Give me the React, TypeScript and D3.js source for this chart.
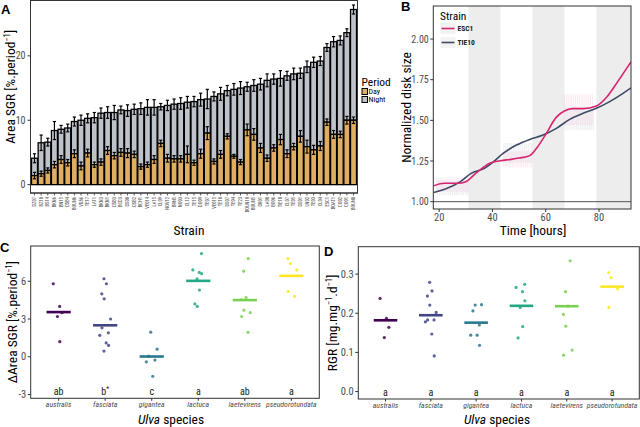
import React from 'react';
import * as d3 from 'd3';

const FONT = "'Roboto Condensed','Liberation Sans Narrow','Arial Narrow',Roboto,sans-serif";

// ---------- Panel A data ----------
const strains = ["DZ07","BZ10","BS14","BKN6","BN15","DSB4","BOUN6","VD86","TE17","LAT1","BKN3","BKN1","DSB3","BCD3","DS08","DSB2","BCH1","VE014","LA15","CL09","NOV12","BRN5","NO03","CL12","TE15","DO09","TE07","VE015","TE18","DS07","TE04","TE23","BOUN10","BOUN5","DR01","LA08","BO06","TIE10","CL07","TE05","DS01","LN02","TE03","CL04","ESC1","BOAT1","CO02","CO01","BOUN8"];
const totalSGR = [4.1,6.5,6.6,8.4,8.6,8.8,9.8,10.0,10.3,10.4,11.1,11.2,11.2,11.6,11.5,11.7,11.8,12.0,12.0,12.1,12.3,12.5,12.6,12.8,12.9,13.2,13.3,13.7,14.1,14.6,14.8,15.0,15.2,15.4,15.6,16.2,16.4,16.5,16.9,17.2,17.3,18.3,19.0,19.2,21.3,22.2,22.4,23.6,27.2];
const daySGR = [1.4,1.7,2.2,3.1,3.9,3.4,4.8,2.9,4.9,3.1,3.5,5.3,4.5,5.0,4.9,4.7,2.8,3.1,3.9,6.4,4.1,4.0,4.0,4.7,3.4,4.8,8.0,3.6,4.7,7.5,4.4,3.5,8.5,7.8,5.7,4.1,5.7,7.0,4.8,5.9,7.5,5.9,5.4,6.0,9.7,7.8,7.8,10.0,10.0];
const totalErr = [0.7,1.2,0.6,1.4,0.6,0.6,0.7,0.8,0.7,0.8,0.8,0.9,1.1,0.6,0.9,0.8,0.9,1.2,1.2,0.5,0.8,0.8,0.9,0.9,0.8,1.0,1.5,0.7,1.0,0.8,0.9,1.0,0.7,0.9,0.9,1.0,0.8,1.2,0.7,0.9,0.8,0.9,0.8,0.7,0.6,0.8,0.7,0.6,0.7];
const dayErr = [0.5,0.4,0.4,0.5,0.6,0.5,0.6,0.6,0.6,0.4,0.5,0.6,0.5,0.6,0.7,0.5,0.4,0.4,0.6,0.5,0.6,0.5,0.5,1.3,0.4,0.7,1.0,0.4,0.6,0.4,0.3,0.4,0.9,0.9,0.7,0.5,0.5,0.8,0.6,0.5,0.9,1.0,0.7,0.7,0.5,0.6,0.5,0.6,0.5];
const aTicks = [0, 10, 20];
const periods = ["Day", "Night"];
const periodColors = ["#E0AE62", "#BEC3CB"];

// ---------- Panel B data ----------
const hoursESC1 = [18,22,27,30,34,39,43,47,50,54,57,60,64,67,70,74,79,83,87,92];
const sizeESC1 = [1.098,1.113,1.113,1.123,1.178,1.236,1.252,1.26,1.268,1.283,1.338,1.414,1.52,1.557,1.572,1.572,1.588,1.645,1.738,1.86];
const hoursTIE10 = [18,23,28,32,37,40,44,49,54,59,64,69,74,79,84,89,92];
const sizeTIE10 = [1.057,1.082,1.123,1.174,1.205,1.24,1.297,1.348,1.383,1.41,1.451,1.506,1.543,1.574,1.615,1.666,1.70];
const nightStart = [31, 55, 79];
const nightEnd = [43, 67, 92];
const dayWinStart = [19, 44, 67];
const dayWinEnd = [31, 55, 78];
const esc1Low = [1.06, 1.21, 1.47];
const esc1High = [1.15, 1.31, 1.66];
const tie10Low = [1.04, 1.24, 1.44];
const tie10High = [1.13, 1.36, 1.58];
const bTicksX = [20, 40, 60, 80];
const bTicksY = [1.0, 1.25, 1.5, 1.75, 2.0];
const bStrains = ["ESC1", "TIE10"];
const bColors = ["#D6246E", "#3E4A68"];

// ---------- Panels C / D data ----------
const species = ["australis","fasciata","gigantea","lactuca","laetevirens","pseudorotundata"];
const speciesColors = ["#440154","#414487","#2A788E","#22A884","#7AD151","#FDE725"];
const deltaSGR = [
  [5.8, 4.0, 3.5, 3.2, 1.2],
  [6.2, 5.8, 5.0, 4.6, 3.0, 2.3, 1.9, 1.7, 1.1, 0.9, 0.45],
  [1.95, 0.6, 0.05, -0.26, -0.4, -1.55],
  [8.2, 6.9, 6.7, 6.6, 6.2, 5.3, 4.2, 4.0],
  [7.8, 6.8, 4.7, 4.55, 3.7, 3.5, 3.2, 1.93],
  [7.8, 7.4, 6.9, 5.2, 4.8],
];
const deltaMeans = [3.55, 2.5, 0.02, 6.03, 4.5, 6.43];
const deltaLetters = ["ab", "b", "c", "a", "ab", "a"];
const deltaStar = [false, true, false, false, false, false];
const cTicks = [-3, 0, 3, 6];

const rgr = [
  [0.238, 0.187, 0.164, 0.138],
  [0.279, 0.257, 0.244, 0.221, 0.202, 0.183, 0.183, 0.178, 0.147, 0.091],
  [0.221, 0.222, 0.206, 0.170, 0.144, 0.144, 0.118],
  [0.274, 0.266, 0.255, 0.232, 0.215, 0.166, 0.137],
  [0.334, 0.255, 0.218, 0.197, 0.167, 0.106, 0.093],
  [0.304, 0.291, 0.262, 0.215],
];
const rgrMeans = [0.182, 0.195, 0.176, 0.219, 0.218, 0.268];
const rgrLetters = ["a", "a", "a", "a", "a", "a"];
const dTicks = [0.0, 0.1, 0.2, 0.3];

const AX = "#333333";
const TICKTXT = "#4D4D4D";

function jitter(i: number) {
  return (((i * 7) % 5) - 2) * 2.2 + (((i * 3) % 2) ? 1 : -1);
}

function PanelA() {
  const left = 30.5, right = 357.5, top = 0.5, bottom = 193;
  const x = d3.scalePoint<string>().domain(strains).range([left, right]).padding(0.6);
  const y = d3.scaleLinear().domain([-1.3, 28.6]).range([bottom, top]);
  const bw = x.step() * 0.9;
  const cap = 3.2;
  return (
    <g>
      <rect x={left} y={top} width={right - left} height={bottom - top} fill="white" stroke={AX} strokeWidth={1} />
      {strains.map((s, i) => {
        const cx = x(s)!;
        return (
          <g key={s}>
            <rect x={cx - bw / 2} y={y(totalSGR[i])} width={bw} height={y(daySGR[i]) - y(totalSGR[i])} fill={periodColors[1]} stroke="black" strokeWidth={1.3} />
            <rect x={cx - bw / 2} y={y(daySGR[i])} width={bw} height={y(0) - y(daySGR[i])} fill={periodColors[0]} stroke="black" strokeWidth={1.3} />
          </g>
        );
      })}
      {strains.map((s, i) => {
        const cx = x(s)!;
        const t = totalSGR[i], d = daySGR[i];
        return (
          <g key={s + "e"} stroke="black" strokeWidth={1.2}>
            <line x1={cx} x2={cx} y1={y(t - totalErr[i])} y2={y(t + totalErr[i])} />
            <line x1={cx - cap / 2} x2={cx + cap / 2} y1={y(t + totalErr[i])} y2={y(t + totalErr[i])} />
            <line x1={cx - cap / 2} x2={cx + cap / 2} y1={y(t - totalErr[i])} y2={y(t - totalErr[i])} />
            <line x1={cx} x2={cx} y1={y(d - dayErr[i])} y2={y(d + dayErr[i])} />
            <line x1={cx - cap / 2} x2={cx + cap / 2} y1={y(d + dayErr[i])} y2={y(d + dayErr[i])} />
            <line x1={cx - cap / 2} x2={cx + cap / 2} y1={y(d - dayErr[i])} y2={y(d - dayErr[i])} />
          </g>
        );
      })}
      <rect x={left} y={top} width={right - left} height={bottom - top} fill="none" stroke={AX} strokeWidth={1} />
      {aTicks.map(t => (
        <g key={t}>
          <line x1={left - 3} x2={left} y1={y(t)} y2={y(t)} stroke={AX} />
          <text x={left - 5} y={y(t) + 3.5} textAnchor="end" fontSize={10} fill={TICKTXT}>{t}</text>
        </g>
      ))}
      {strains.map(s => (
        <g key={s + "l"}>
          <line x1={x(s)!} x2={x(s)!} y1={bottom} y2={bottom + 2.5} stroke={AX} strokeWidth={0.8} />
          <text transform={`translate(${x(s)! + 1.6},${bottom + 4}) rotate(-90)`} textAnchor="end" fontSize={4.6} fill={TICKTXT}>{s}</text>
        </g>
      ))}
      <text x={189} y={235} textAnchor="middle" fontSize={13.5} fill="black">Strain</text>
      <text transform={`translate(15,${(top + bottom) / 2 - 10}) rotate(-90)`} textAnchor="middle" fontSize={13.5} fill="black">
        Area SGR [%.period<tspan dy={-5} fontSize={8.5}>−1</tspan><tspan dy={5}>]</tspan>
      </text>
      <text x={1} y={14} fontSize={13} fontWeight="bold" fill="black" fontFamily="Arial, Liberation Sans, sans-serif">A</text>
      {/* legend */}
      <text x={361.5} y={85.5} fontSize={11.5} fill="black">Period</text>
      {periods.map((p, i) => (
        <g key={p}>
          <rect x={362} y={88.5 + i * 8} width={5.5} height={6} fill={periodColors[i]} stroke="black" strokeWidth={1} />
          <text x={368.5} y={94.3 + i * 8} fontSize={8} fill="black">{p}</text>
        </g>
      ))}
    </g>
  );
}

function PanelB() {
  const left = 433.3, right = 631, top = 6, bottom = 209;
  const x = d3.scaleLinear().domain([17.8, 92]).range([left, right]);
  const y = d3.scaleLinear().domain([0.955, 2.203]).range([bottom, top]);
  const line = d3.line<[number, number]>().x(d => x(d[0])).y(d => y(d[1])).curve(d3.curveMonotoneX);
  const esc = hoursESC1.map((h, i) => [h, sizeESC1[i]] as [number, number]);
  const tie = hoursTIE10.map((h, i) => [h, sizeTIE10[i]] as [number, number]);
  const hatch = (lo: number[], hi: number[], color: string, off: number) =>
    dayWinStart.map((s, k) => {
      const xs = d3.range(s + off, dayWinEnd[k], 0.7);
      return (
        <g key={color + k} stroke={color} strokeOpacity={0.1} strokeWidth={1}>
          {xs.map((h, j) => (
            <line key={j} x1={x(h)} x2={x(h)} y1={y(lo[k])} y2={y(hi[k])} />
          ))}
        </g>
      );
    });
  return (
    <g>
      <defs>
        <clipPath id="clipB"><rect x={left} y={top} width={right - left} height={bottom - top} /></clipPath>
      </defs>
      <rect x={left} y={top} width={right - left} height={bottom - top} fill="white" />
      <g clipPath="url(#clipB)">
        {nightStart.map((s, i) => (
          <rect key={s} x={x(s)} y={top} width={x(nightEnd[i]) - x(s)} height={bottom - top} fill="#EDEDED" />
        ))}
        <line x1={left} x2={right} y1={y(1)} y2={y(1)} stroke="#555" strokeWidth={1} />
        {hatch(tie10Low, tie10High, bColors[1], 0.35)}
        {hatch(esc1Low, esc1High, bColors[0], 0)}
        <path d={line(tie)!} fill="none" stroke={bColors[1]} strokeWidth={1.6} />
        <path d={line(esc)!} fill="none" stroke={bColors[0]} strokeWidth={1.6} />
      </g>
      <rect x={left} y={top} width={right - left} height={bottom - top} fill="none" stroke={AX} strokeWidth={1} />
      {bTicksY.map(t => (
        <g key={t}>
          <line x1={left - 3} x2={left} y1={y(t)} y2={y(t)} stroke={AX} />
          <text x={left - 4.5} y={y(t) + 3.5} textAnchor="end" fontSize={10} fill={TICKTXT}>{t.toFixed(2)}</text>
        </g>
      ))}
      {bTicksX.map(t => (
        <g key={t}>
          <line x1={x(t)} x2={x(t)} y1={bottom} y2={bottom + 3} stroke={AX} />
          <text x={x(t)} y={bottom + 11.5} textAnchor="middle" fontSize={10.5} fill={TICKTXT}>{t}</text>
        </g>
      ))}
      <text x={533} y={235} textAnchor="middle" fontSize={13.5} fill="black">Time [hours]</text>
      <text transform={`translate(411,${(top + bottom) / 2}) rotate(-90)`} textAnchor="middle" fontSize={13.5} fill="black">Normalized disk size</text>
      <text x={401} y={10.5} fontSize={13} fontWeight="bold" fill="black" fontFamily="Arial, Liberation Sans, sans-serif">B</text>
      <text x={440} y={20} fontSize={11.5} fill="black">Strain</text>
      {bStrains.map((s, i) => (
        <g key={s}>
          <rect x={440.5} y={23 + i * 14} width={15} height={11} fill="#F3F3F3" />
          <line x1={441.5} x2={454.5} y1={28.5 + i * 14} y2={28.5 + i * 14} stroke={bColors[i]} strokeWidth={1.6} />
          <text x={457.5} y={31.3 + i * 14} fontSize={7.5} fontWeight="bold" fill="#222">{s}</text>
        </g>
      ))}
    </g>
  );
}

function DotPanel(props: {
  left: number; right: number; top: number; bottom: number; domain: [number, number];
  points: number[][]; means: number[]; letters: string[]; stars?: boolean[]; ticks: number[];
  fmt: (v: number) => string; yTitle: React.ReactNode; yTitleX: number; label: string; labelX: number; labelY: number; titleX: number;
}) {
  const { left, right, top, bottom } = props;
  const x = d3.scalePoint<string>().domain(species).range([left, right]).padding(0.6);
  const y = d3.scaleLinear().domain(props.domain).range([bottom, top]);
  const hw = x.step() * 0.26;
  return (
    <g>
      <rect x={left} y={top} width={right - left} height={bottom - top} fill="white" stroke={AX} strokeWidth={1} />
      {species.map((s, i) => (
        <g key={s}>
          {props.points[i].map((v, j) => (
            <circle key={j} cx={x(s)! + jitter(j + i * 3)} cy={y(v)} r={1.6} fill={speciesColors[i]} fillOpacity={0.85} />
          ))}
          <line x1={x(s)! - hw} x2={x(s)! + hw} y1={y(props.means[i])} y2={y(props.means[i])} stroke={speciesColors[i]} strokeWidth={2.6} />
          <text x={x(s)!} y={bottom - 3} textAnchor="middle" fontSize={10} fill="#1A1A1A">
            {props.letters[i]}{props.stars && props.stars[i] ? <tspan dy={-4} fontSize={7}>*</tspan> : null}
          </text>
          <line x1={x(s)!} x2={x(s)!} y1={bottom} y2={bottom + 2.5} stroke={AX} />
          <text x={x(s)!} y={bottom + 8.8} textAnchor="middle" fontSize={7.8} fontStyle="italic" fill={TICKTXT}>{s}</text>
        </g>
      ))}
      {props.ticks.map(t => (
        <g key={t}>
          <line x1={left - 3} x2={left} y1={y(t)} y2={y(t)} stroke={AX} />
          <text x={left - 4.5} y={y(t) + 3.6} textAnchor="end" fontSize={10.5} fill={TICKTXT}>{props.fmt(t)}</text>
        </g>
      ))}
      <text x={props.titleX} y={424} textAnchor="middle" fontSize={13.5} fill="black">
        <tspan fontStyle="italic">Ulva</tspan> species
      </text>
      <text transform={`translate(${props.yTitleX},${(top + bottom) / 2}) rotate(-90)`} textAnchor="middle" fontSize={13.5} fill="black">
        {props.yTitle}
      </text>
      <text x={props.labelX} y={props.labelY} fontSize={13} fontWeight="bold" fill="black" fontFamily="Arial, Liberation Sans, sans-serif">{props.label}</text>
    </g>
  );
}

export default function App() {
  return (
    <svg width={640} height={427} viewBox="0 0 640 427" style={{ position: 'absolute', left: 0, top: 0, background: 'white' }} fontFamily={FONT}>
      <rect width={640} height={427} fill="white" />
      <PanelA />
      <PanelB />
      <DotPanel left={30.7} right={319.3} top={246} bottom={398.3} domain={[-3.3, 8.8]}
        points={deltaSGR} means={deltaMeans} letters={deltaLetters} stars={deltaStar} ticks={cTicks}
        fmt={v => String(v)} yTitleX={17} label="C" labelX={0} labelY={252} titleX={171}
        yTitle={<>ΔArea SGR [%.period<tspan dy={-5} fontSize={8.5}>−1</tspan><tspan dy={5}>]</tspan></>} />
      <DotPanel left={358.3} right={639.3} top={246.7} bottom={399} domain={[-0.019, 0.37]}
        points={rgr} means={rgrMeans} letters={rgrLetters} ticks={dTicks}
        fmt={v => v.toFixed(1)} yTitleX={337} label="D" labelX={324} labelY={256} titleX={497}
        yTitle={<>RGR [mg.mg<tspan dy={-5} fontSize={8.5}>−1</tspan><tspan dy={5}>.d</tspan><tspan dy={-5} fontSize={8.5}>−1</tspan><tspan dy={5}>]</tspan></>} />
    </svg>
  );
}
